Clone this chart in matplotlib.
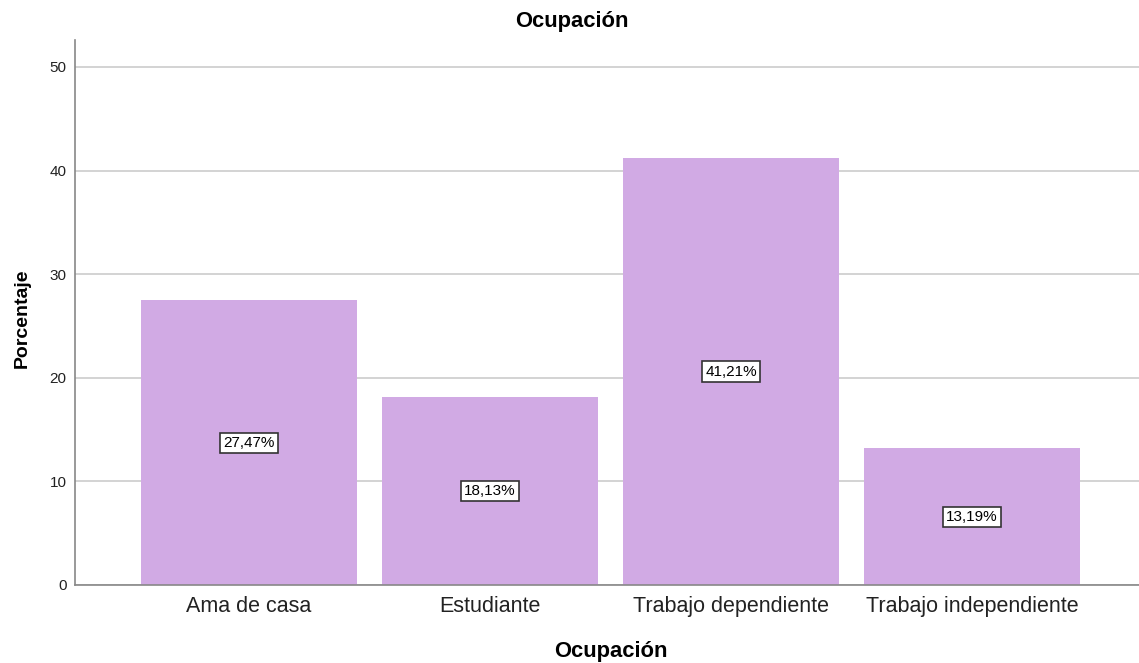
import matplotlib
matplotlib.use("Agg")
import matplotlib.pyplot as plt

categories = ["Ama de casa", "Estudiante", "Trabajo dependiente", "Trabajo independiente"]
values = [27.47, 18.13, 41.21, 13.19]
labels = ["27,47%", "18,13%", "41,21%", "13,19%"]
yticks = [0, 10, 20, 30, 40, 50]

plt.rcParams['font.family'] = ['Liberation Sans', 'DejaVu Sans']

fig = plt.figure(figsize=(11.39, 6.63), dpi=100)
ax = fig.add_axes([75/1139, (663-585)/663, (1139-75)/1139, (585-40)/663])

x = list(range(len(categories)))
ax.bar(x, values, width=0.896, color="#D1AAE4", edgecolor="none", zorder=2)
for xi, v, lab in zip(x, values, labels):
    ax.text(xi, v/2, lab, ha="center", va="center", fontsize=11, zorder=3,
            bbox=dict(boxstyle="square,pad=0.2", fc="white", ec="#333333", lw=1.2))

ax.set_xlim(-0.722, 3.693)
ax.set_ylim(0, 52.6)
ax.set_yticks(yticks)
ax.set_yticklabels([str(t) for t in yticks], fontsize=11, color="#222222")
ax.set_xticks(x)
ax.set_xticklabels(categories, fontsize=15.5, color="#222222")
ax.tick_params(axis="y", length=0, pad=6)
ax.tick_params(axis="x", length=0, pad=8)
ax.yaxis.grid(True, color="#cccccc", lw=1.2, zorder=0)
ax.set_axisbelow(True)
for s in ["top", "right"]:
    ax.spines[s].set_visible(False)
for s in ["left", "bottom"]:
    ax.spines[s].set_color("#888888")
    ax.spines[s].set_linewidth(1.2)

fig.text(572/1139, 1 - 22/663, "Ocupación", ha="center", va="center", fontsize=15.8, fontweight="bold")
fig.text(611/1139, 1 - 651/663, "Ocupación", ha="center", va="center", fontsize=15.8, fontweight="bold")
fig.text(22/1139, 1 - 318/663, "Porcentaje", ha="center", va="center", rotation=90, fontsize=14, fontweight="bold")

fig.savefig("out.png", dpi=100)
